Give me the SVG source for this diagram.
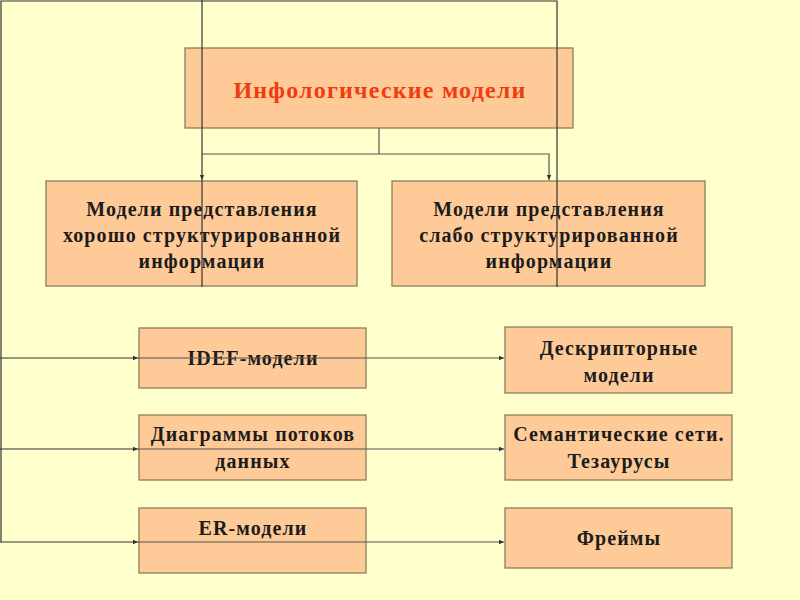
<svg xmlns="http://www.w3.org/2000/svg" width="800" height="600" viewBox="0 0 800 600">
<defs>
<marker id="ah" markerWidth="6" markerHeight="6" refX="5" refY="3" orient="auto" markerUnits="userSpaceOnUse">
<path d="M0,0.8 L5,3 L0,5.2 z" fill="#333"/>
</marker>
<style>
.box{fill:#fecb98;stroke:#8a7d62;stroke-width:1.3}
.t{font-family:"Liberation Serif","Times New Roman",serif;font-weight:bold;font-size:20px;letter-spacing:1.1px;fill:#1c1c1c;text-anchor:middle}
.title{font-family:"Liberation Serif","Times New Roman",serif;font-weight:bold;font-size:24px;letter-spacing:1.2px;fill:#f03c10;text-anchor:middle}
.ln{fill:none;stroke:#333;stroke-width:1.2}
.cn{fill:none;stroke:#555;stroke-width:1.2}
</style>
</defs>
<rect width="800" height="600" fill="#ffffcc"/>
<g id="n-top"><rect class="box" x="185" y="48" width="388" height="80"/><text class="title" x="380" y="98">Инфологические модели</text></g>
<g id="n-well"><rect class="box" x="46" y="181" width="311" height="105"/>
<text class="t" x="202" y="216">Модели представления</text><text class="t" x="202" y="242">хорошо структурированной</text><text class="t" x="202" y="268">информации</text></g>
<g id="n-weak"><rect class="box" x="392" y="181" width="313" height="105"/>
<text class="t" x="549" y="216">Модели представления</text><text class="t" x="549" y="242">слабо структурированной</text><text class="t" x="549" y="268">информации</text></g>
<g id="n-idef"><rect class="box" x="139" y="328" width="227" height="60"/><text class="t" x="253" y="365">IDEF-модели</text></g>
<g id="n-dfd"><rect class="box" x="139" y="415" width="227" height="65"/><text class="t" x="253" y="441">Диаграммы потоков</text><text class="t" x="253" y="468">данных</text></g>
<g id="n-er"><rect class="box" x="139" y="508" width="227" height="65"/><text class="t" x="253" y="535">ER-модели</text></g>
<g id="n-desc"><rect class="box" x="505" y="327" width="227" height="66"/><text class="t" x="619" y="355">Дескрипторные</text><text class="t" x="619" y="382">модели</text></g>
<g id="n-sem"><rect class="box" x="505" y="415" width="227" height="65"/><text class="t" x="619" y="441">Семантические сети.</text><text class="t" x="619" y="468">Тезаурусы</text></g>
<g id="n-frames"><rect class="box" x="505" y="508" width="227" height="60"/><text class="t" x="619" y="545">Фреймы</text></g>
<g id="connectors">
<path class="cn" d="M379,128 V154"/>
<path class="cn" d="M202,154 H549 V180" marker-end="url(#ah)"/>
<path class="ln" d="M202,0 V180" marker-end="url(#ah)"/>
<path class="ln" d="M202,180 V287"/>
<path class="ln" d="M557,287 V1 H1 V542"/>
<path class="ln" d="M0,358 H138" marker-end="url(#ah)"/>
<path class="ln" d="M0,449 H138" marker-end="url(#ah)"/>
<path class="ln" d="M0,542 H138" marker-end="url(#ah)"/>
<path class="cn" d="M138,358 H504" marker-end="url(#ah)"/>
<path class="cn" d="M138,449 H504" marker-end="url(#ah)"/>
<path class="cn" d="M138,542 H504" marker-end="url(#ah)"/>
</g>
</svg>
